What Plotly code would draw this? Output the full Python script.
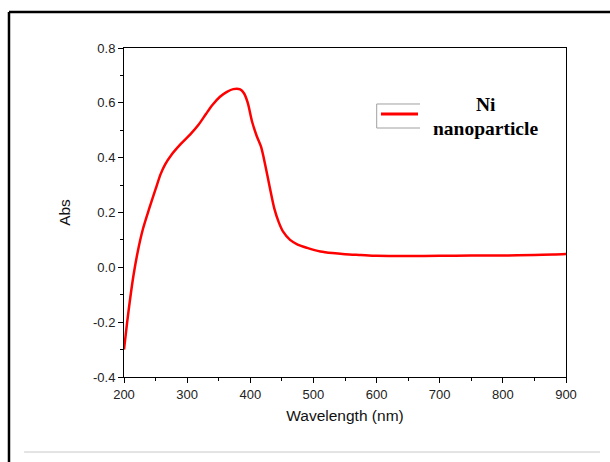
import plotly.graph_objects as go

# UV-Vis absorption spectrum of Ni nanoparticles
wavelength = [200, 205, 210, 215, 222, 230, 240, 250, 258, 265, 275, 290, 305, 318, 330,
              340, 352, 363, 373, 384, 390, 396, 403, 410, 417, 424, 431, 438, 445, 452,
              463, 475, 490, 511, 530, 550, 575, 600, 650, 700, 750, 800, 850, 880, 900]
absorbance = [-0.30, -0.20, -0.11, -0.03, 0.06, 0.14, 0.215, 0.285, 0.34, 0.375, 0.41,
              0.45, 0.485, 0.52, 0.56, 0.592, 0.622, 0.64, 0.65, 0.649, 0.635, 0.60,
              0.53, 0.48, 0.44, 0.37, 0.29, 0.215, 0.165, 0.13, 0.10, 0.083, 0.071,
              0.058, 0.052, 0.048, 0.045, 0.042, 0.041, 0.042, 0.043, 0.043, 0.045,
              0.047, 0.049]

x_ticks = [200, 300, 400, 500, 600, 700, 800, 900]
y_ticks = [-0.4, -0.2, 0.0, 0.2, 0.4, 0.6, 0.8]
y_tick_labels = ["-0.4", "-0.2", "0.0", "0.2", "0.4", "0.6", "0.8"]

legend_lines = ["Ni", "nanoparticle"]

fig = go.Figure()
fig.add_trace(go.Scatter(x=wavelength, y=absorbance, mode="lines",
                         line=dict(color="#ff0000", width=2.5, shape="spline", smoothing=0.8),
                         showlegend=False))

axis_font = dict(family="Liberation Sans, Arial, sans-serif", size=13, color="#222")
title_font = dict(family="Liberation Sans, Arial, sans-serif", size=15.5, color="#111")
fig.update_xaxes(range=[200, 900], tickvals=x_ticks, ticks="outside", ticklen=5,
                 tickwidth=1, tickcolor="black", showline=True, linecolor="black",
                 linewidth=1, mirror=True, showgrid=False, zeroline=False,
                 tickfont=axis_font,
                 minor=dict(dtick=50, tick0=200, ticks="outside", ticklen=3, tickcolor="black"),
                 title=dict(text="Wavelength (nm)", standoff=9, font=title_font))
fig.update_yaxes(range=[-0.4, 0.8], tickvals=y_ticks, ticktext=y_tick_labels, ticks="outside",
                 ticklen=5, tickwidth=1, tickcolor="black", showline=True, linecolor="black",
                 linewidth=1, mirror=True, showgrid=False, zeroline=False,
                 tickfont=axis_font,
                 minor=dict(dtick=0.1, tick0=-0.4, ticks="outside", ticklen=3, tickcolor="black"),
                 title=dict(text="Abs", standoff=18, font=title_font))

shapes = [
    # outer frame (left and top edges)
    dict(type="line", xref="paper", yref="paper", x0=-0.2602, x1=1.2, y0=1.1094, y1=1.1094,
         line=dict(color="black", width=2.5)),
    dict(type="line", xref="paper", yref="paper", x0=-0.2602, x1=-0.2602, y0=-0.30, y1=1.1094,
         line=dict(color="black", width=2.5)),
    # thin rule near the bottom
    dict(type="line", xref="paper", yref="paper", x0=-0.226, x1=1.077, y0=-0.228, y1=-0.228,
         line=dict(color="#c8c8c8", width=1)),
    # legend key box
    dict(type="line", xref="paper", yref="paper", x0=0.5717, x1=0.5717, y0=0.7568, y1=0.8298,
         line=dict(color="#a0a0a0", width=1)),
    dict(type="line", xref="paper", yref="paper", x0=0.5717, x1=0.6697, y0=0.8298, y1=0.8298,
         line=dict(color="#a0a0a0", width=1)),
    dict(type="line", xref="paper", yref="paper", x0=0.5717, x1=0.6697, y0=0.7568, y1=0.7568,
         line=dict(color="#a0a0a0", width=1)),
    dict(type="line", xref="paper", yref="paper", x0=0.5814, x1=0.6652, y0=0.7994, y1=0.7994,
         line=dict(color="#ff0000", width=3)),
]

legend_font = dict(family="Liberation Serif, Times New Roman, serif", size=19.5, color="black")
annotations = [
    dict(text="<b>%s</b>" % legend_lines[0], xref="paper", yref="paper", x=0.819, y=0.827,
         showarrow=False, xanchor="center", yanchor="middle", font=legend_font),
    dict(text="<b>%s</b>" % legend_lines[1], xref="paper", yref="paper", x=0.819, y=0.754,
         showarrow=False, xanchor="center", yanchor="middle", font=legend_font),
]

fig.update_layout(width=610, height=462, margin=dict(l=124, r=44, t=48, b=85),
                  paper_bgcolor="white", plot_bgcolor="white",
                  shapes=shapes, annotations=annotations, showlegend=False)

fig.write_html("out.html")
